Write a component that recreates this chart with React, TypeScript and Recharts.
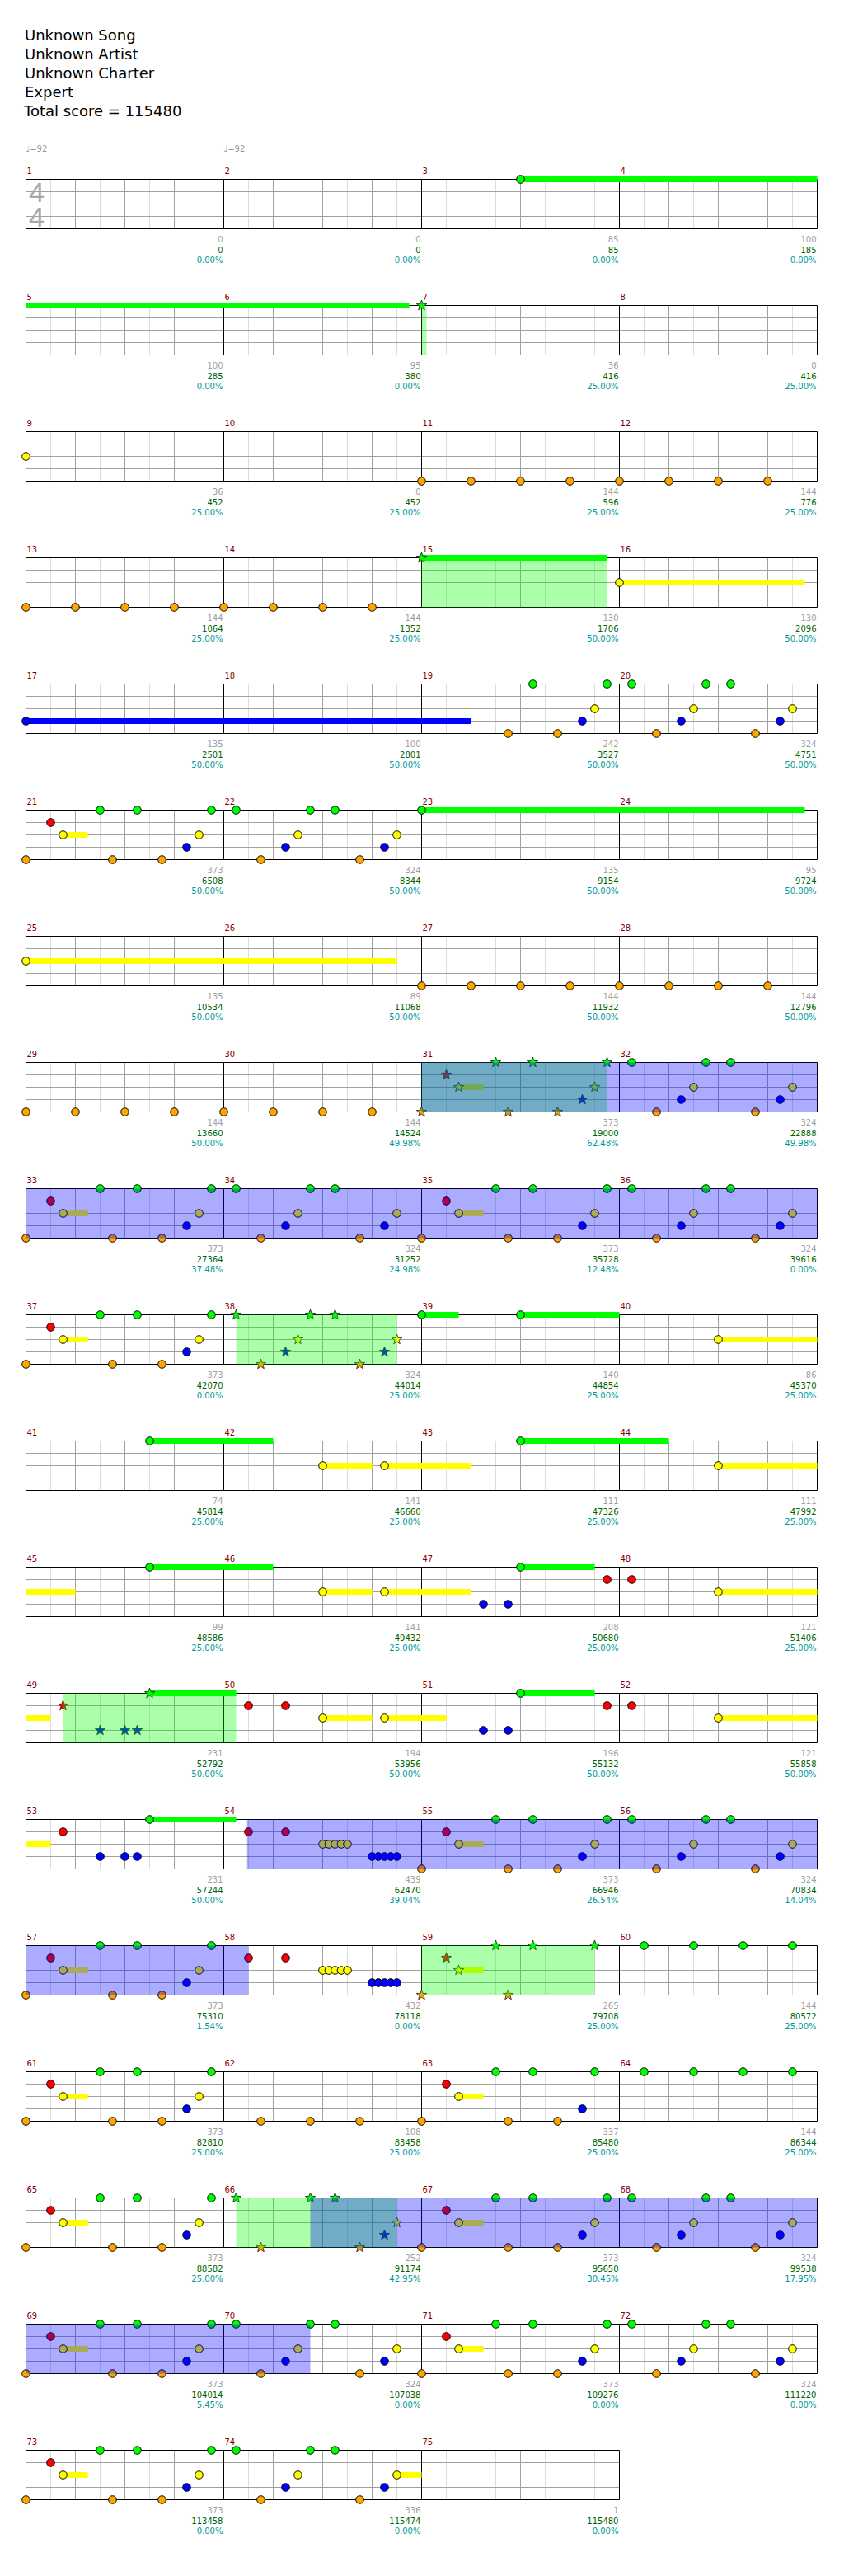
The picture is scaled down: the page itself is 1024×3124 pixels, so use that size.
import {
  ComposedChart,
  Line,
  ReferenceArea,
  ReferenceLine,
  Scatter,
  XAxis,
  YAxis,
} from "recharts"

const songInfo = ["Unknown Song", "Unknown Artist", "Unknown Charter", "Expert"]

const laneColors = ["#00ff00", "#ff0000", "#ffff00", "#0000ff", "#ffa500"]
const laneNames = ["green", "red", "yellow", "blue", "orange"]

const measureCount = 75
const tempos = [
  { measure: 1, bpm: 92 },
  { measure: 2, bpm: 92 },
]
const timeSignatures = [{ measure: 1, top: 4, bottom: 4 }]

// score of each measure (grey), running total (green), star power meter (teal)
const measureScores = [
  0, 0, 85, 100, 100, 95, 36, 0, 36, 0, 144, 144, 144, 144, 130, 130, 135, 100,
  242, 324, 373, 324, 135, 95, 135, 89, 144, 144, 144, 144, 373, 324, 373, 324,
  373, 324, 373, 324, 140, 86, 74, 141, 111, 111, 99, 141, 208, 121, 231, 194,
  196, 121, 231, 439, 373, 324, 373, 432, 265, 144, 373, 108, 337, 144, 373, 252,
  373, 324, 373, 324, 373, 324, 373, 336, 1,
]
const totalScores = [
  0, 0, 85, 185, 285, 380, 416, 416, 452, 452, 596, 776, 1064, 1352, 1706, 2096,
  2501, 2801, 3527, 4751, 6508, 8344, 9154, 9724, 10534, 11068, 11932, 12796,
  13660, 14524, 19000, 22888, 27364, 31252, 35728, 39616, 42070, 44014, 44854,
  45370, 45814, 46660, 47326, 47992, 48586, 49432, 50680, 51406, 52792, 53956,
  55132, 55858, 57244, 62470, 66946, 70834, 75310, 78118, 79708, 80572, 82810,
  83458, 85480, 86344, 88582, 91174, 95650, 99538, 104014, 107038, 109276,
  111220, 113458, 115474, 115480,
]
const spMeter = [
  0, 0, 0, 0, 0, 0, 25, 25, 25, 25, 25, 25, 25, 25, 50, 50, 50, 50, 50, 50, 50,
  50, 50, 50, 50, 50, 50, 50, 50, 49.98, 62.48, 49.98, 37.48, 24.98, 12.48, 0, 0,
  25, 25, 25, 25, 25, 25, 25, 25, 25, 25, 25, 50, 50, 50, 50, 50, 39.04, 26.54,
  14.04, 1.54, 0, 25, 25, 25, 25, 25, 25, 25, 42.95, 30.45, 17.95, 5.45, 0, 0, 0,
  0, 0, 0,
]

// notes: [beat in measure, lane (0 green .. 4 orange), sustain beats]
const riffA = [
  [0, 4], [0.5, 1], [0.75, 2, 0.5], [1.5, 0], [1.75, 4], [2.25, 0], [2.75, 4],
  [3.25, 3], [3.5, 2], [3.75, 0],
]
const riffB = [
  [0.25, 0], [0.75, 4], [1.25, 3], [1.5, 2], [1.75, 0], [2.25, 0], [2.75, 4],
  [3.25, 3], [3.5, 2],
]
const riffRun = [
  [0.5, 1], [1.25, 1], [2, 2], [2.125, 2], [2.25, 2], [2.375, 2], [2.5, 2],
  [3, 3], [3.125, 3], [3.25, 3], [3.375, 3], [3.5, 3],
]
const quarterOrange = [[0, 4], [1, 4], [2, 4], [3, 4]]
const offbeatGreen = [[0.5, 0], [1.5, 0], [2.5, 0], [3.5, 0]]

const riffAMeasures = [21, 31, 33, 35, 37, 55, 57, 61, 65, 67, 69, 71, 73]
const riffBMeasures = [20, 22, 32, 34, 36, 38, 56, 68, 70, 72]
const riffRunMeasures = [54, 58]
const quarterOrangeMeasures = [11, 12, 13, 14, 27, 28, 29, 30]
const offbeatGreenMeasures = [60, 64]

// [measure, beat, lane, sustain beats]
const otherNotes = [
  [3, 2, 0, 13.75],
  [7, 0, 0],
  [9, 0, 2],
  [15, 0, 0, 3.75],
  [16, 0, 2, 3.75],
  [17, 0, 3, 9],
  [19, 1.75, 4], [19, 2.25, 0], [19, 2.75, 4], [19, 3.25, 3], [19, 3.5, 2], [19, 3.75, 0],
  [23, 0, 0, 7.75],
  [25, 0, 2, 7.5],
  [39, 0, 0, 0.75], [39, 2, 0, 2],
  [40, 2, 2, 2],
  [41, 2.5, 0, 2.5],
  [42, 2, 2, 1], [42, 3.25, 2, 1.75],
  [43, 2, 0, 3],
  [44, 2, 2, 3],
  [45, 2.5, 0, 2.5],
  [46, 2, 2, 1], [46, 3.25, 2, 1.75],
  [47, 1.25, 3], [47, 1.75, 3], [47, 2, 0, 1.5], [47, 3.75, 1],
  [48, 0.25, 1], [48, 2, 2, 2.5],
  [49, 0.75, 1], [49, 1.5, 3], [49, 2, 3], [49, 2.25, 3], [49, 2.5, 0, 1.75],
  [50, 0.5, 1], [50, 1.25, 1], [50, 2, 2, 1], [50, 3.25, 2, 1.25],
  [51, 1.25, 3], [51, 1.75, 3], [51, 2, 0, 1.5], [51, 3.75, 1],
  [52, 0.25, 1], [52, 2, 2, 2.5],
  [53, 0.75, 1], [53, 1.5, 3], [53, 2, 3], [53, 2.25, 3], [53, 2.5, 0, 1.75],
  [59, 0, 4], [59, 0.5, 1], [59, 0.75, 2, 0.5], [59, 1.5, 0], [59, 1.75, 4], [59, 2.25, 0], [59, 3.5, 0],
  [62, 0.75, 4], [62, 1.75, 4], [62, 2.75, 4],
  [63, 0, 4], [63, 0.5, 1], [63, 0.75, 2, 0.5], [63, 1.5, 0], [63, 1.75, 4], [63, 2.25, 0],
  [63, 2.75, 4], [63, 3.25, 3], [63, 3.5, 0],
  [66, 0.25, 0], [66, 0.75, 4], [66, 1.75, 0], [66, 2.25, 0], [66, 2.75, 4], [66, 3.25, 3], [66, 3.5, 2],
  [74, 0.25, 0], [74, 0.75, 4], [74, 1.25, 3], [74, 1.5, 2], [74, 1.75, 0], [74, 2.25, 0],
  [74, 2.75, 4], [74, 3.25, 3], [74, 3.5, 2, 0.5],
]

// [fromMeasure, fromBeat, toMeasure, toBeat]
const starPhrases = [
  [7, 0, 7, 0.1],
  [15, 0, 15, 3.75],
  [31, 0, 31, 3.75],
  [38, 0.25, 38, 3.5],
  [49, 0.75, 50, 0.25],
  [59, 0, 59, 3.5],
  [66, 0.25, 66, 3.5],
]
const overdrive = [
  [31, 0, 37, 0],
  [54, 0.47, 58, 0.5],
  [66, 1.75, 70, 1.75],
]

const beatOf = (measure: number, beat: number) => (measure - 1) * 4 + beat

type Note = { g: number; lane: number; sus: number; star: boolean }

const inStar = (g: number) =>
  starPhrases.some(
    ([m1, b1, m2, b2]) => g >= beatOf(m1, b1) - 1e-6 && g <= beatOf(m2, b2) + 1e-6
  )

const allNotes: Note[] = []
const addPattern = (measures: number[], pattern: number[][]) =>
  measures.forEach((m) =>
    pattern.forEach(([b, lane, sus]) =>
      allNotes.push({ g: beatOf(m, b), lane, sus: sus ?? 0, star: false })
    )
  )
addPattern(riffAMeasures, riffA)
addPattern(riffBMeasures, riffB)
addPattern(riffRunMeasures, riffRun)
addPattern(quarterOrangeMeasures, quarterOrange)
addPattern(offbeatGreenMeasures, offbeatGreen)
otherNotes.forEach(([m, b, lane, sus]) =>
  allNotes.push({ g: beatOf(m, b), lane, sus: sus ?? 0, star: false })
)
allNotes.forEach((n) => (n.star = inStar(n.g)))
allNotes.sort((a, b) => a.g - b.g)

const labelFont = "'DejaVu Sans', sans-serif"

const starPoints = (cx: number, cy: number, R: number, r: number) =>
  Array.from({ length: 10 }, (_, i) => {
    const a = -Math.PI / 2 + (i * Math.PI) / 5
    const rad = i % 2 ? r : R
    return `${cx + rad * Math.cos(a)},${cy + rad * Math.sin(a)}`
  }).join(" ")

const NoteShape = (props: any) => {
  const { cx, cy, payload } = props
  const fill = laneColors[payload.lane]
  if (payload.star) {
    return (
      <polygon
        points={starPoints(cx, cy, 6.5, 2.7)}
        fill={fill}
        stroke="#1a1a1a"
        strokeWidth={0.8}
      />
    )
  }
  return <circle cx={cx} cy={cy} r={4.8} fill={fill} stroke="#000" strokeWidth={1} />
}

const MeasureMark = (props: any) => {
  const vb = props.viewBox || {}
  const x = vb.x ?? 0
  const y = vb.y ?? 0
  const h = vb.height ?? 60
  const { startMeasure, endMeasure } = props
  const tempo = tempos.find((t) => t.measure === startMeasure)
  const ts = timeSignatures.find((t) => t.measure === startMeasure)
  return (
    <g fontFamily={labelFont} fontSize={10}>
      {startMeasure ? (
        <text x={x + 1} y={y - 7} fill="#8b0000">
          {startMeasure}
        </text>
      ) : null}
      {tempo ? (
        <text x={x} y={y - 34} fill="#999">
          {`\u2669=${tempo.bpm}`}
        </text>
      ) : null}
      {ts ? (
        <text
          fill="#a8a8a8"
          fontSize={34}
          fontFamily="'Liberation Sans', Arial, sans-serif"
          textAnchor="middle"
        >
          <tspan x={x + 13} y={y + 27.5}>{ts.top}</tspan>
          <tspan x={x + 13} y={y + 57.5}>{ts.bottom}</tspan>
        </text>
      ) : null}
      {endMeasure ? (
        <g textAnchor="end">
          <text x={x - 1} y={y + h + 16} fill="#a0a0a0">
            {measureScores[endMeasure - 1]}
          </text>
          <text x={x - 1} y={y + h + 29} fill="#006400">
            {totalScores[endMeasure - 1]}
          </text>
          <text x={x - 1} y={y + h + 41.5} fill="#009999">
            {`${spMeter[endMeasure - 1].toFixed(2)}%`}
          </text>
        </g>
      ) : null}
    </g>
  )
}

const clipRange = (a: number, b: number, lo: number, hi: number) => {
  const s = Math.max(a, lo)
  const e = Math.min(b, hi)
  return e > s ? [s - lo, e - lo] : null
}

const StaffRow = ({ row }: { row: number }) => {
  const start = row * 16
  const len = Math.min(16, measureCount * 4 - start)
  const rowNotes = allNotes.filter((n) => n.g >= start - 1e-6 && n.g < start + 16 - 1e-6)
  const sustains = allNotes
    .filter((n) => n.sus > 0)
    .map((n) => ({ lane: n.lane, seg: clipRange(n.g, n.g + n.sus, start, start + len) }))
    .filter((s) => s.seg)
  const spAreas = starPhrases
    .map(([m1, b1, m2, b2]) => clipRange(beatOf(m1, b1), beatOf(m2, b2), start, start + len))
    .filter(Boolean) as number[][]
  const odAreas = overdrive
    .map(([m1, b1, m2, b2]) => clipRange(beatOf(m1, b1), beatOf(m2, b2), start, start + len))
    .filter(Boolean) as number[][]
  const eighths = Array.from({ length: len * 2 + 1 }, (_, k) => k / 2).filter(
    (x) => x % 4 !== 0
  )
  const measureLines = Array.from({ length: len / 4 + 1 }, (_, k) => k * 4)
  const firstMeasure = row * 4 + 1

  return (
    <ComposedChart
      width={1024}
      height={153}
      margin={{ top: 49.5, right: 32.5, bottom: 43.5, left: 31.5 }}
    >
      <XAxis type="number" dataKey="x" domain={[0, 16]} hide />
      <YAxis type="number" dataKey="y" domain={[0, 4]} reversed hide />
      {eighths.map((x) => (
        <ReferenceLine
          key={`e${x}`}
          x={x}
          stroke={x % 1 === 0 ? "#a0a0a0" : "#dcdcdc"}
          strokeWidth={1}
          zIndex={-100}
        />
      ))}
      {[1, 2, 3, 0, 4].map((lane) => (
        <ReferenceLine
          key={`l${lane}`}
          segment={[
            { x: 0, y: lane },
            { x: len, y: lane },
          ]}
          stroke={lane === 0 || lane === 4 ? "#000" : "#a0a0a0"}
          strokeWidth={1}
          zIndex={-90}
        />
      ))}
      {measureLines.map((x) => {
        const startMeasure = x < len ? firstMeasure + x / 4 : 0
        const endMeasure = x > 0 ? firstMeasure + x / 4 - 1 : 0
        return (
          <ReferenceLine
            key={`m${x}`}
            x={x}
            stroke="#000"
            strokeWidth={1}
            zIndex={-80}
            label={<MeasureMark startMeasure={startMeasure} endMeasure={endMeasure} />}
          />
        )
      })}
      {sustains.map((s, i) => (
        <Line
          key={`s${i}`}
          data={[
            { x: s.seg![0], y: s.lane },
            { x: s.seg![1], y: s.lane },
          ]}
          dataKey="y"
          type="linear"
          stroke={laneColors[s.lane]}
          strokeWidth={7}
          dot={false}
          activeDot={false}
          isAnimationActive={false}
        />
      ))}
      {laneNames.map((name, lane) => (
        <Scatter
          key={name}
          name={name}
          data={rowNotes
            .filter((n) => n.lane === lane)
            .map((n) => ({ x: n.g - start, y: n.lane, lane: n.lane, star: n.star }))}
          fill={laneColors[lane]}
          shape={NoteShape}
          isAnimationActive={false}
        />
      ))}
      {spAreas.map(([a, b], i) => (
        <ReferenceArea
          key={`sp${i}`}
          x1={a}
          x2={b}
          y1={0}
          y2={4}
          fill="#00ff00"
          fillOpacity={0.33}
          stroke="none"
          zIndex={800}
        />
      ))}
      {odAreas.map(([a, b], i) => (
        <ReferenceArea
          key={`od${i}`}
          x1={a}
          x2={b}
          y1={0}
          y2={4}
          fill="#0000ff"
          fillOpacity={0.33}
          stroke="none"
          zIndex={810}
        />
      ))}
    </ComposedChart>
  )
}

const rowCount = Math.ceil(measureCount / 4)

export default function App() {
  return (
    <div
      style={{
        position: "absolute",
        left: 0,
        top: 0,
        width: 1024,
        height: 3124,
        background: "#fff",
        overflow: "hidden",
      }}
    >
      <svg width={1024} height={168} style={{ position: "absolute", left: 0, top: 0 }}>
        <g fontFamily="'DejaVu Sans', sans-serif" fontSize={18} fill="#000">
          {songInfo.map((t, i) => (
            <text key={t} x={30} y={49 + i * 23}>
              {t}
            </text>
          ))}
          <text x={29} y={141}>{`Total score = ${totalScores[totalScores.length - 1]}`}</text>
        </g>
      </svg>
      {Array.from({ length: rowCount }, (_, row) => (
        <div key={row} style={{ position: "absolute", left: 0, top: 168 + row * 153 }}>
          <StaffRow row={row} />
        </div>
      ))}
    </div>
  )
}
